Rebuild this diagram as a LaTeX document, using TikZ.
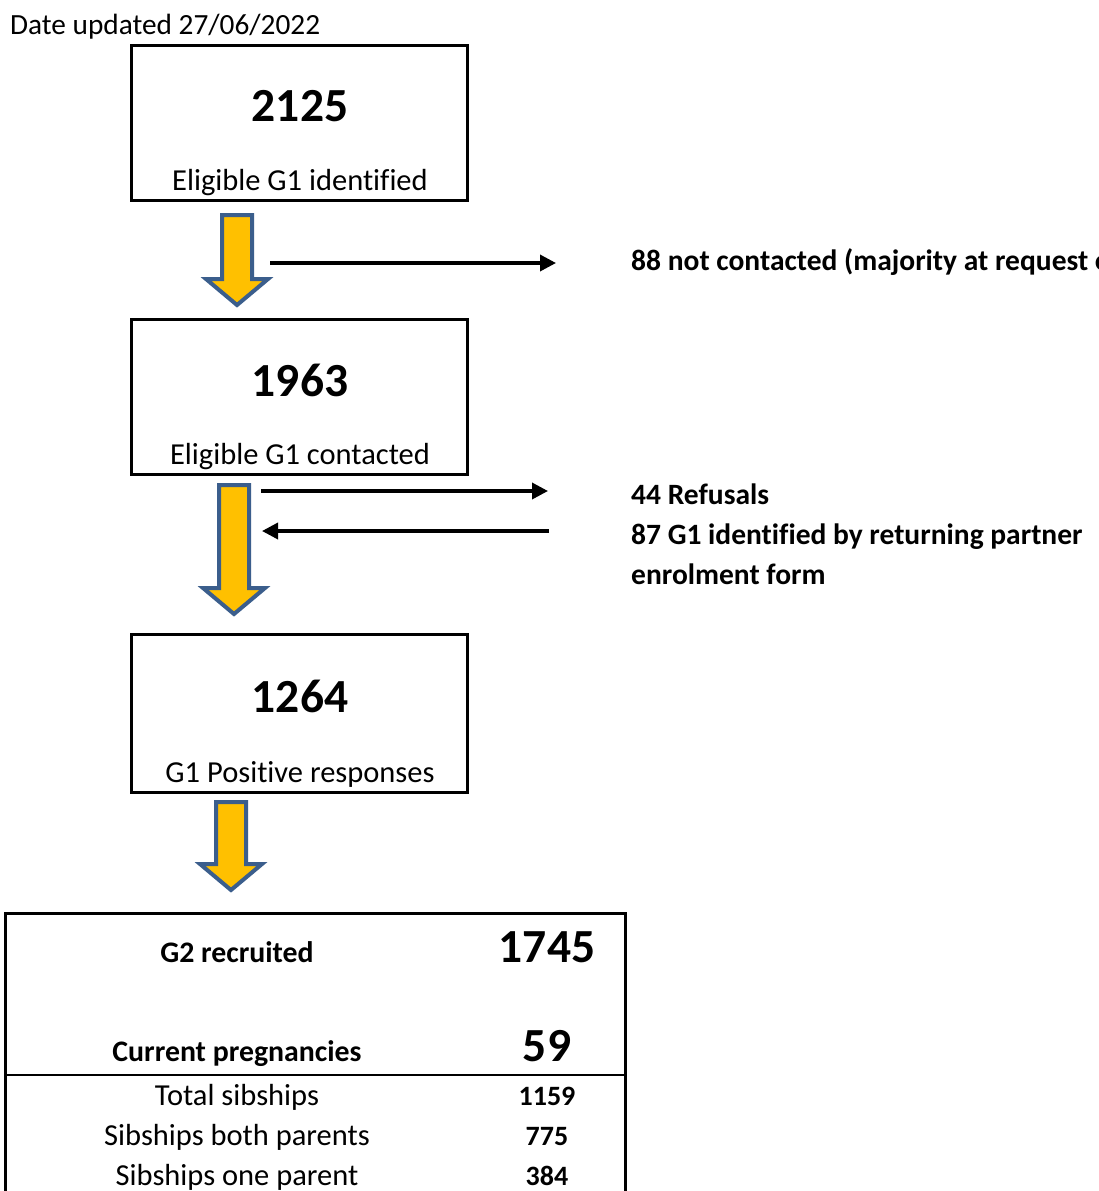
\documentclass[tikz,border=0pt]{standalone}
\usepackage{fontspec}
\setmainfont[Ligatures={NoCommon}]{Carlito}
\usetikzlibrary{arrows.meta}
\definecolor{arrowfill}{HTML}{FFC000}
\definecolor{arrowline}{HTML}{3B5E8C}
\tikzset{
  box/.style={draw=black, line width=3pt},
  thinarrow/.style={draw=black, line width=3.5pt, -{Triangle[length=16pt,width=16pt]}},
  blockarrow/.style={fill=arrowfill, draw=arrowline, line width=4pt, line join=miter},
  bignum/.style={font=\fontsize{47.5}{50}\selectfont\bfseries, anchor=center, inner sep=0pt},
  boxlabel/.style={font=\fontsize{30.5}{34}\selectfont, anchor=base, inner sep=0pt},
  sidelabel/.style={font=\fontsize{29.5}{34}\selectfont\bfseries, anchor=base west, inner sep=0pt},
  tablehead/.style={font=\fontsize{29.8}{34}\selectfont\bfseries, anchor=base, inner sep=0pt},
  rowlabel/.style={font=\fontsize{30.5}{34}\selectfont, anchor=base, inner sep=0pt},
  rowval/.style={font=\fontsize{28}{32}\selectfont\bfseries, anchor=base, inner sep=0pt},
}
\newcommand{\blockarrow}[5]{% cx, top, headtop, tip, name
  \draw[blockarrow] (#1-15,#2) -- (#1+15,#2) -- (#1+15,#3) -- (#1+31,#3) -- (#1,#4) -- (#1-31,#3) -- (#1-15,#3) -- cycle;
  \coordinate (#5) at (#1,#2);
}
\begin{document}
\begin{tikzpicture}[x=1pt,y=-1pt]
\clip (0,0) rectangle (1099,1191);
\fill[white] (0,0) rectangle (1099,1191);

\node[font=\fontsize{29.3}{34}\selectfont, anchor=base west, inner sep=0pt] (date) at (10,34) {Date updated 27/06/2022};

% boxes
\draw[box] (131,45) rectangle (467,200);
\node[bignum] (n1) at (300,106) {2125};
\node[boxlabel] (l1) at (300,190) {Eligible G1 identified};

\draw[box] (131,319) rectangle (467,474);
\node[bignum] (n2) at (300,380) {1963};
\node[boxlabel] (l2) at (300,464) {Eligible G1 contacted};

\draw[box] (131,634) rectangle (467,792);
\node[bignum] (n3) at (300,696) {1264};
\node[boxlabel] (l3) at (300,782) {G1 Positive responses};

% block arrows
\blockarrow{237}{215}{279}{305}{ba1}
\blockarrow{234}{485}{588}{614}{ba2}
\blockarrow{231}{802}{864}{890}{ba3}

% side arrows and labels
\coordinate (a1s) at (270,263);
\coordinate (a1e) at (556,263);
\node[sidelabel] (s1) at (631,270) {88 not contacted (majority at request of};
\draw[thinarrow] (a1s) -- (a1e);

\coordinate (a2s) at (261,491);
\coordinate (a2e) at (548,491);
\node[sidelabel] (s2) at (631,504) {44 Refusals};
\draw[thinarrow] (a2s) -- (a2e);

\coordinate (a3s) at (549,531);
\coordinate (a3e) at (262,531);
\node[sidelabel] (s3) at (631,544) {87 G1 identified by returning partner};
\node[sidelabel] (s4) at (631,584) {enrolment form};
\draw[thinarrow] (a3s) -- (a3e);

% bottom table
\draw[box] (5,913) rectangle (625,1210);
\draw[line width=2pt] (5,1075) -- (625,1075);
\node[tablehead] (g2) at (237,962) {G2 recruited};
\node[bignum, anchor=base] (g2n) at (547,962) {1745};
\node[tablehead] (cp) at (237,1061) {Current pregnancies};
\node[bignum, anchor=base] (cpn) at (547,1061) {59};
\node[rowlabel] (r1) at (237,1105) {Total sibships};
\node[rowval] (r1v) at (547,1105) {1159};
\node[rowlabel] (r2) at (237,1145) {Sibships both parents};
\node[rowval] (r2v) at (547,1145) {775};
\node[rowlabel] (r3) at (237,1185) {Sibships one parent};
\node[rowval] (r3v) at (547,1185) {384};
\end{tikzpicture}
\end{document}
